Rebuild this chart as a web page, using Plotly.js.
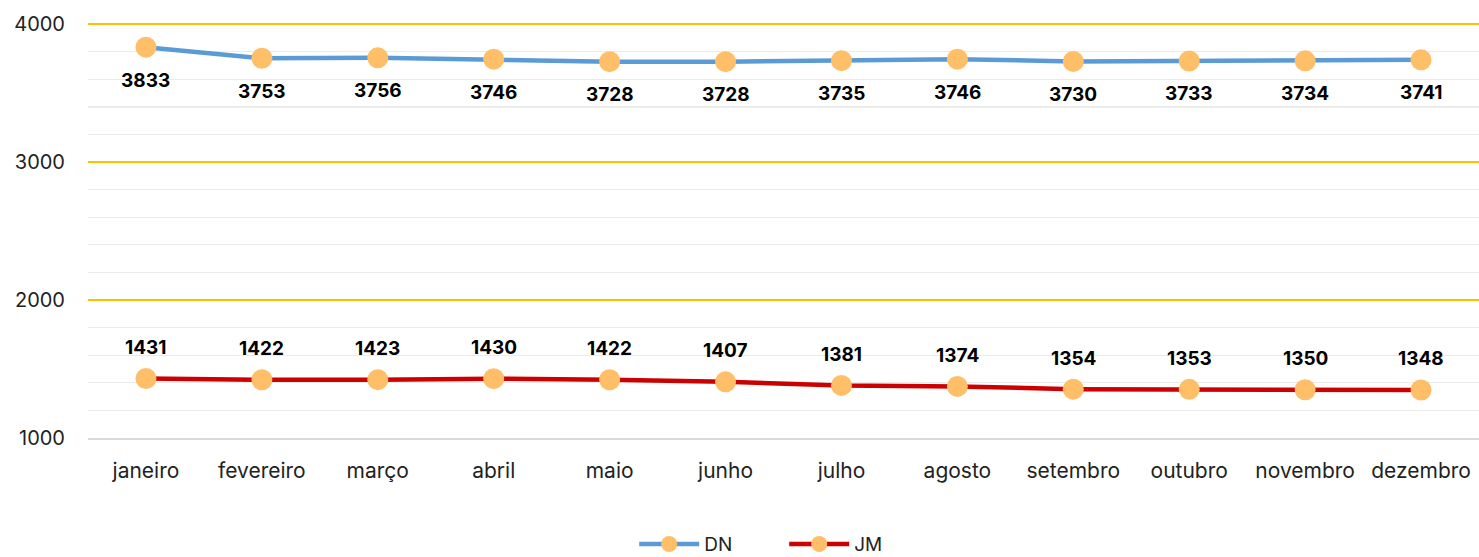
<!DOCTYPE html>
<html><head><meta charset="utf-8">
<script src="https://cdn.plot.ly/plotly-3.0.1.min.js"></script>
<style>html,body{margin:0;padding:0;background:#fff}#chart{width:1479px;height:557px}</style>
</head><body><div id="chart"></div>
<script>
const months = ["janeiro","fevereiro","março","abril","maio","junho","julho","agosto","setembro","outubro","novembro","dezembro"];
const dn = [3833,3753,3756,3746,3728,3728,3735,3746,3730,3733,3734,3741];
const jm = [1431,1422,1423,1430,1422,1407,1381,1374,1354,1353,1350,1348];
const majorTicks = [1000,2000,3000,4000];
const majorText = ["1000","2000","3000","4000"];
const minorTicks = [1200,1400,1600,1800,2200,2400,2600,2800,3200,3400,3600,3800];
const yRange = [1000, 4030];

const FONT = "Inter, Liberation Sans, Arial, sans-serif";
const marker = {color:"#FFBF69", size:21};
const traces = [
  {x:months, y:dn, name:"DN", type:"scatter", mode:"lines+markers",
   line:{color:"#5B9BD5", width:4.5}, marker:marker},
  {x:months, y:jm, name:"JM", type:"scatter", mode:"lines+markers",
   line:{color:"#CC0000", width:4.5}, marker:marker}
];
const annotations = [];
months.forEach((m,i)=>{
  annotations.push({x:m, y:dn[i], text:String(dn[i]), showarrow:false, yshift:-33,
    font:{family:FONT, size:19, color:"#000", weight:"bold"}});
  annotations.push({x:m, y:jm[i], text:String(jm[i]), showarrow:false, yshift:31,
    font:{family:FONT, size:19, color:"#000", weight:"bold"}});
});
const layout = {
  width:1479, height:557,
  margin:{l:88, r:0, t:20, b:119, autoexpand:false},
  paper_bgcolor:"#fff", plot_bgcolor:"#fff",
  font:{family:FONT, size:19, color:"#222"},
  showlegend:true,
  legend:{orientation:"h", x:0.5005, xanchor:"center", y:-0.254, yanchor:"middle",
    font:{family:FONT, size:19, color:"#222"}, itemwidth:60, entrywidth:75, tracegroupgap:0},
  xaxis:{type:"category", range:[-0.5,11.5], showgrid:false, showline:true, linecolor:"#D9D9D9", linewidth:2,
    ticks:"", ticklabelstandoff:13, tickfont:{family:FONT, size:21, color:"#222"}, fixedrange:true},
  yaxis:{range:yRange, tickmode:"array", tickvals:majorTicks, ticktext:majorText,
    showgrid:true, gridcolor:"#FFC000", gridwidth:2,
    zeroline:false, showline:false, ticks:"", ticklabelstandoff:22,
    tickfont:{family:FONT, size:20, color:"#222"},
    minor:{tickmode:"array", tickvals:minorTicks, showgrid:true, gridcolor:"#EBEBEB", gridwidth:1.2, ticks:""}},
  annotations:annotations
};
Plotly.newPlot("chart", traces, layout, {displayModeBar:false, staticPlot:true});
</script></body></html>
